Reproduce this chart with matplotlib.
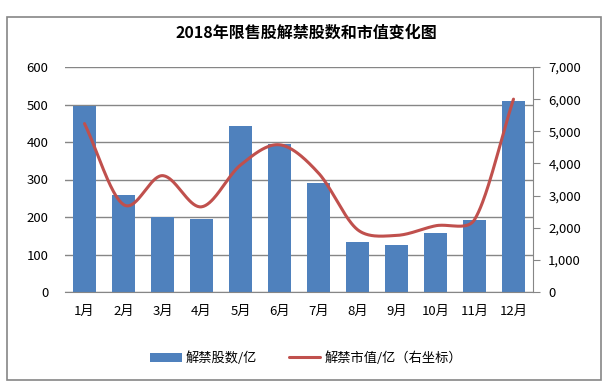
import numpy as np
import matplotlib
matplotlib.use("Agg")
import matplotlib.pyplot as plt
from matplotlib.patches import Rectangle
from matplotlib.ticker import FuncFormatter

plt.rcParams['font.family'] = ['Noto Sans CJK SC', 'DejaVu Sans']

months = ['1月', '2月', '3月', '4月', '5月', '6月', '7月', '8月', '9月', '10月', '11月', '12月']
shares = [497, 259, 200, 196, 443, 394, 291, 134, 126, 158, 193, 510]
market_value = [5240, 2720, 3620, 2650, 3950, 4580, 3700, 1940, 1760, 2060, 2250, 6000]

title = '2018年限售股解禁股数和市值变化图'
bar_label = '解禁股数/亿'
line_label = '解禁市值/亿（右坐标）'

bar_color = '#4F81BD'
line_color = '#C0504D'
grid_color = '#868686'


def smooth_line(x, y, sx=39.0, sy=225 / 7000, n=40):
    # bezier smoothing in screen space, control arms clamped to the segment length
    p = np.column_stack([np.asarray(x, float) * sx, np.asarray(y, float) * sy])
    m = len(p)
    tang = np.zeros_like(p)
    for i in range(m):
        a = p[max(i - 1, 0)]
        b = p[min(i + 1, m - 1)]
        tang[i] = (b - a) / 6.0 if 0 < i < m - 1 else (b - a) / 3.0
    t = np.linspace(0, 1, n)[:, None]
    pts = []
    for i in range(m - 1):
        seg = np.linalg.norm(p[i + 1] - p[i])
        t0, t1 = tang[i].copy(), tang[i + 1].copy()
        for tv in (t0, t1):
            ln = np.linalg.norm(tv)
            if ln > 0.35 * seg:
                tv *= 0.35 * seg / ln
        c1 = p[i] + t0
        c2 = p[i + 1] - t1
        b = ((1 - t) ** 3 * p[i] + 3 * (1 - t) ** 2 * t * c1 +
             3 * (1 - t) * t ** 2 * c2 + t ** 3 * p[i + 1])
        pts.append(b if i == 0 else b[1:])
    pts = np.vstack(pts)
    return pts[:, 0] / sx, pts[:, 1] / sy


fig = plt.figure(figsize=(6.12, 3.92), dpi=100)
fig.patches.append(Rectangle((7 / 612, 12 / 392), 594 / 612, 363 / 392,
                             transform=fig.transFigure, fill=False,
                             edgecolor=grid_color, linewidth=1.2))

ax = fig.add_axes([65 / 612, 100 / 392, 468 / 612, 225 / 392])
x = np.arange(len(months))
ax.bar(x, shares, width=0.58, color=bar_color, zorder=2, label=bar_label)
ax.set_xlim(-0.5, len(months) - 0.5)
ax.set_ylim(0, 600)
ax.set_yticks(range(0, 601, 100))
ax.set_xticks(x)
ax.set_xticklabels(months)
ax.yaxis.grid(True, color=grid_color, linewidth=1)
ax.set_axisbelow(True)
for s in ['top', 'left', 'right']:
    ax.spines[s].set_visible(False)
ax.spines['bottom'].set_color(grid_color)
ax.tick_params(axis='both', length=0, labelsize=9.5, colors='black')
ax.tick_params(axis='y', pad=12)
ax.tick_params(axis='x', pad=9)

ax2 = ax.twinx()
lx, ly = smooth_line(x, market_value)
ax2.plot(lx, ly, color=line_color, linewidth=2.2, solid_capstyle='round',
         label=line_label, zorder=3)
ax2.set_ylim(0, 7000)
ax2.set_yticks(range(0, 7001, 1000))
ax2.yaxis.set_major_formatter(FuncFormatter(lambda v, p: f'{int(v):,}'))
for s in ['top', 'left', 'bottom']:
    ax2.spines[s].set_visible(False)
ax2.spines['right'].set_color(grid_color)
ax2.tick_params(axis='y', length=5, color=grid_color, labelsize=9.5, pad=6)

fig.text(0.5, 1 - 33 / 392, title, ha='center', va='center',
         fontsize=11.5, fontweight='bold')

h1, l1 = ax.get_legend_handles_labels()
h2, l2 = ax2.get_legend_handles_labels()
fig.legend(h1 + h2, l1 + l2, loc='center', bbox_to_anchor=(0.5, 1 - 358 / 392),
           ncol=2, frameon=False, fontsize=9.5, handlelength=2.4,
           handletextpad=0.3, columnspacing=2.4)

fig.savefig('out.png', dpi=100)
